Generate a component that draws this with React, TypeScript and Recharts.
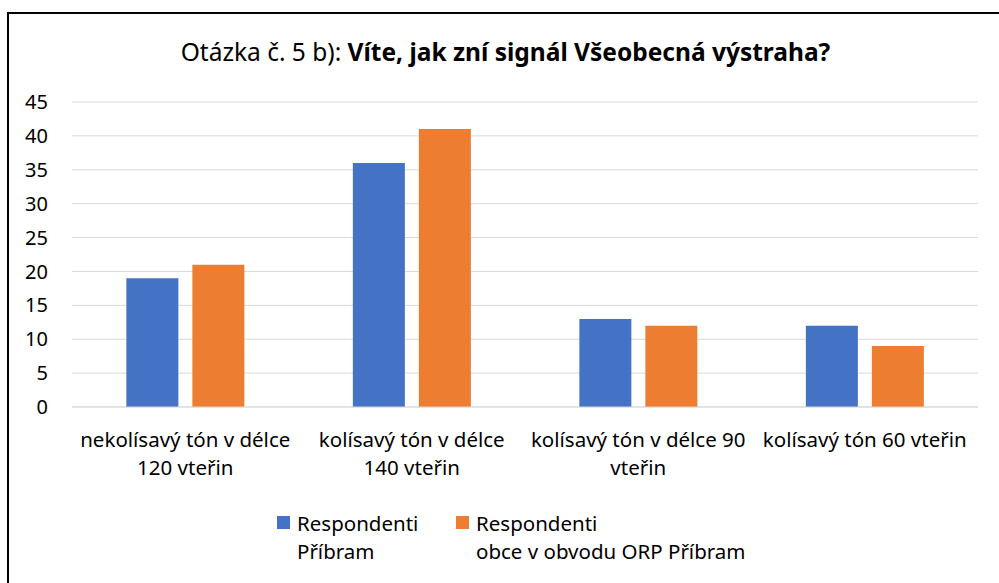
import { BarChart, Bar, XAxis, YAxis, CartesianGrid } from 'recharts';

const categories = [
  'nekolísavý tón v délce\n120 vteřin',
  'kolísavý tón v délce\n140 vteřin',
  'kolísavý tón v délce 90\nvteřin',
  'kolísavý tón 60 vteřin',
];
const pribram = [19, 36, 13, 12];
const orp = [21, 41, 12, 9];
const yTicks = [0, 5, 10, 15, 20, 25, 30, 35, 40, 45];

const series = [
  { key: 'pribram', label: 'Respondenti\nPříbram', color: '#4472C4' },
  { key: 'orp', label: 'Respondenti\nobce v obvodu ORP Příbram', color: '#ED7D31' },
];

const data = categories.map((c, i) => ({ name: c, pribram: pribram[i], orp: orp[i] }));

const FONT = '"Noto Sans", "Open Sans", sans-serif';

const CategoryTick = ({ x, y, payload }: any) => {
  const lines = String(payload.value).split('\n');
  return (
    <text x={x} y={y} textAnchor="middle" fill="#000" fontSize={20.5} fontFamily={FONT}>
      {lines.map((l, i) => (
        <tspan key={i} x={x} dy={i === 0 ? 32 : 28}>
          {l}
        </tspan>
      ))}
    </text>
  );
};

export default function App() {
  return (
    <div style={{ position: 'fixed', left: 0, top: 0, width: 999, height: 583, background: '#fff', overflow: 'hidden', fontFamily: FONT }}>
      <div style={{ position: 'absolute', left: 7, top: 12, width: 1020, height: 600, border: '2px solid #000', boxSizing: 'border-box' }} />
      <div style={{ position: 'absolute', left: 6, top: 36, width: 999, textAlign: 'center', fontSize: 24.5, lineHeight: '32px', color: '#000' }}>
        Otázka č. 5 b): <b>Víte, jak zní signál Všeobecná výstraha?</b>
      </div>
      <div style={{ position: 'absolute', left: 0, top: 0 }}>
        <BarChart width={999} height={583} data={data} margin={{ top: 102, right: 21, bottom: 96, left: 0 }} barGap={14} barCategoryGap="24%">
          <CartesianGrid vertical={false} stroke="#d9d9d9" />
          <XAxis dataKey="name" interval={0} tick={<CategoryTick />} tickLine={false} axisLine={{ stroke: '#d9d9d9' }} height={80} />
          <YAxis
            width={72}
            domain={[0, 45]}
            ticks={yTicks}
            interval={0}
            axisLine={false}
            tickLine={false}
            tickSize={0}
            tickMargin={24}
            tick={{ fill: '#000', fontSize: 20, fontFamily: FONT }}
          />
          {series.map((s) => (
            <Bar key={s.key} dataKey={s.key} fill={s.color} isAnimationActive={false} />
          ))}
        </BarChart>
      </div>
      <div style={{ position: 'absolute', top: 509, left: 277, display: 'flex', fontSize: 20.5, lineHeight: '28px', color: '#000' }}>
        {series.map((s, i) => (
          <div key={s.key} style={{ display: 'flex', alignItems: 'flex-start', width: i === 0 ? 179 : 'auto' }}>
            <span style={{ display: 'inline-block', width: 13, height: 13, background: s.color, marginTop: 7, marginRight: 7 }} />
            <span style={{ whiteSpace: 'pre' }}>{s.label}</span>
          </div>
        ))}
      </div>
    </div>
  );
}
